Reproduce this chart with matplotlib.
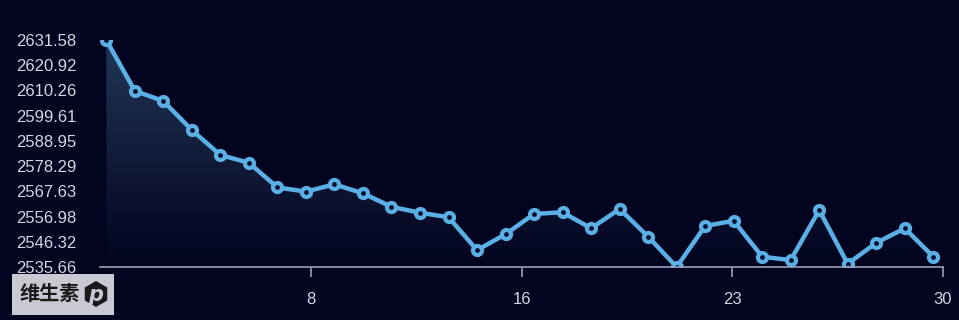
import numpy as np
import matplotlib
matplotlib.use("Agg")
import matplotlib.pyplot as plt
from matplotlib.patches import Polygon, RegularPolygon, Rectangle

# data
days = list(range(1, 31))
values = [2631.58, 2610.1, 2605.8, 2593.5, 2583.0, 2579.7, 2569.3, 2567.5,
          2570.6, 2566.8, 2561.1, 2558.6, 2556.7, 2542.8, 2549.5, 2558.1,
          2558.8, 2552.0, 2560.2, 2548.5, 2535.66, 2553.0, 2555.2, 2540.0,
          2538.6, 2559.7, 2537.0, 2545.9, 2552.0, 2540.0]
x_tick_labels = ["8", "16", "23", "30"]

bg = "#02031e"
line_c = "#5aafe5"
axis_c = "#9a9eba"
text_c = "#d4d7e2"

fig = plt.figure(figsize=(9.59, 3.2), dpi=100, facecolor=bg)
ax = fig.add_axes([0.1043, 0.1656, 0.879, 0.7094], facecolor=bg)

ymin, ymax = min(values), max(values)
x_lo, x_hi = 0.78, 30.34
ax.set_xlim(x_lo, x_hi)
ax.set_ylim(ymin, ymax)

# gradient area under the line
grad = np.linspace(1, 0, 256).reshape(-1, 1)
top = np.array([0.13, 0.21, 0.34])
bot = np.array(matplotlib.colors.to_rgb(bg))
img = (bot + (top - bot) * grad[..., None]).reshape(256, 1, 3)
im = ax.imshow(img, extent=[x_lo, x_hi, ymin, ymax], aspect="auto", zorder=1)
verts = [(days[0], ymin)] + list(zip(days, values)) + [(days[-1], ymin)]
clip = Polygon(verts, closed=True, transform=ax.transData, facecolor="none", edgecolor="none")
ax.add_patch(clip)
im.set_clip_path(clip)

ax.plot(days, values, color=line_c, lw=3.2, zorder=3, solid_joinstyle="round")
ax.plot(days, values, ls="none", marker="o", ms=6.5, mfc="#0a0f2c", mec=line_c, mew=3, zorder=4)

# axes styling
for s in ["top", "right", "left"]:
    ax.spines[s].set_visible(False)
ax.spines["bottom"].set_color(axis_c)
ax.spines["bottom"].set_linewidth(1.2)
ax.spines["bottom"].set_zorder(5)

yt = np.linspace(ymin, ymax, 10)
ax.set_yticks(yt)
ax.set_yticklabels([f"{v:.2f}" for v in yt])
ax.tick_params(axis="y", length=0, pad=17, labelcolor=text_c, labelsize=12)
for lab in ax.get_yticklabels():
    lab.set_fontfamily("Liberation Sans")

xt = np.linspace(x_lo, x_hi, 5)[1:]
ax.set_xticks(xt)
ax.set_xticklabels(x_tick_labels)
ax.tick_params(axis="x", length=7, width=1.2, color=axis_c, pad=11,
               labelcolor=text_c, labelsize=12)
for lab in ax.get_xticklabels():
    lab.set_fontfamily("Liberation Sans")

# logo box bottom-left
fig.patches.append(Rectangle((12 / 959, 5 / 320), 102 / 959, 41 / 320,
                             transform=fig.transFigure, facecolor="#c9c9d3",
                             edgecolor="none", zorder=10))
fig.text(20 / 959, 26 / 320, "维生素", family=["Noto Sans CJK SC", "DejaVu Sans"],
         fontweight="bold", fontsize=14.5, color="#1a1a1a", va="center", ha="left", zorder=11)
hexagon = RegularPolygon((96, 26), numVertices=6, radius=13, orientation=0,
                         transform=None, facecolor="#1a1a1a", edgecolor="none", zorder=11)
fig.patches.append(hexagon)
fig.text(96 / 959, 25 / 320, "p", fontsize=15, fontweight="bold", style="italic",
         color="#c9c9d3", ha="center", va="center", zorder=12)

fig.savefig("out.png", dpi=100, facecolor=bg)
